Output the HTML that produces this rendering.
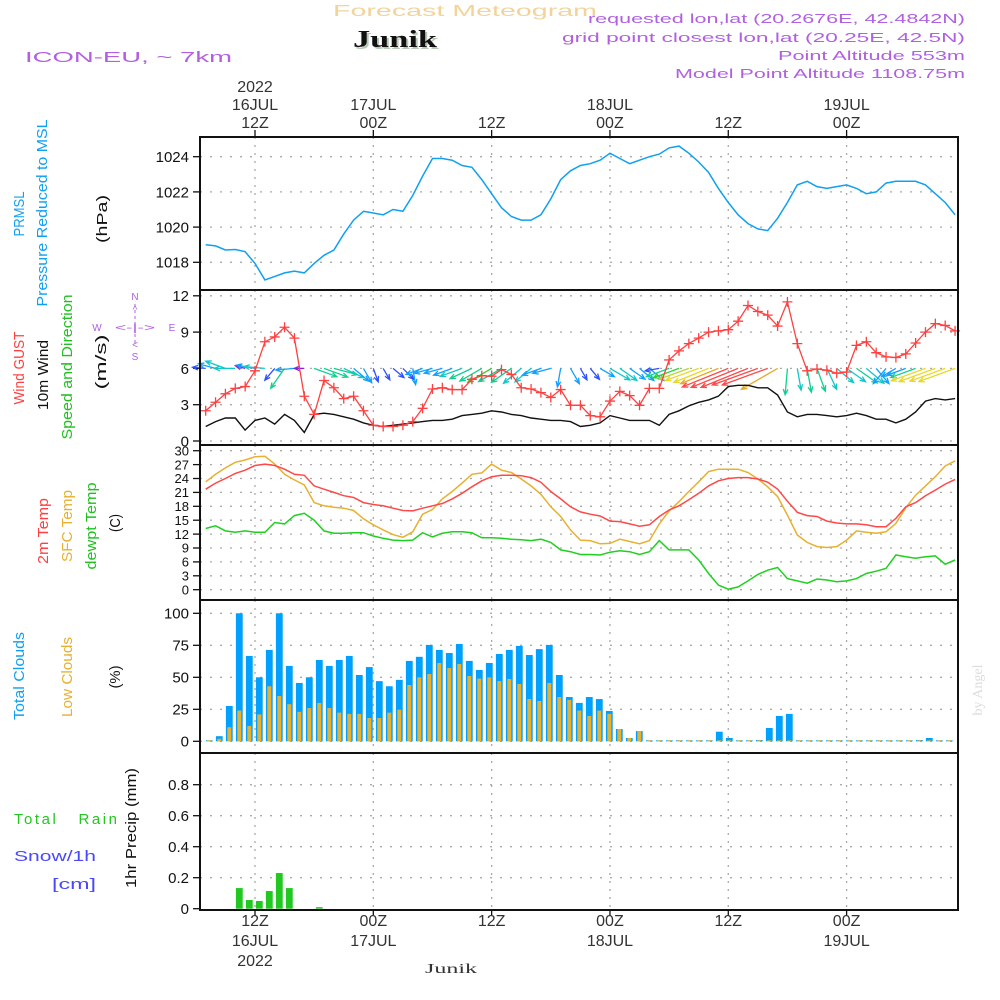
<!DOCTYPE html>
<html><head><meta charset="utf-8"><style>
html,body{margin:0;padding:0;background:#fff;}
svg{display:block;font-family:"Liberation Sans",sans-serif;}
</style></head><body>
<svg id="chart" width="1000" height="1000" viewBox="0 0 1000 1000" xmlns="http://www.w3.org/2000/svg">
<rect width="1000" height="1000" fill="#fff"/>
<text x="333" y="16" font-size="16" fill="#f2d49a" textLength="264" lengthAdjust="spacingAndGlyphs">Forecast Meteogram</text>
<text x="355" y="49" font-size="24" font-weight="bold" font-family="Liberation Serif,serif" fill="#b8c8b8" textLength="84" lengthAdjust="spacingAndGlyphs">Junik</text>
<text x="353" y="47" font-size="24" font-weight="bold" font-family="Liberation Serif,serif" fill="#111" textLength="84" lengthAdjust="spacingAndGlyphs">Junik</text>
<text x="25" y="62" font-size="15" fill="#b060e0" textLength="207" lengthAdjust="spacingAndGlyphs">ICON-EU, ~ 7km</text>
<g font-size="13" fill="#b060e0" text-anchor="end">
<text x="965" y="23" textLength="377" lengthAdjust="spacingAndGlyphs">requested lon,lat (20.2676E, 42.4842N)</text>
<text x="965" y="42" textLength="403" lengthAdjust="spacingAndGlyphs">grid point closest lon,lat (20.25E, 42.5N)</text>
<text x="965" y="60" textLength="187" lengthAdjust="spacingAndGlyphs">Point Altitude 553m</text>
<text x="965" y="78" textLength="290" lengthAdjust="spacingAndGlyphs">Model Point Altitude 1108.75m</text>
</g>
<g font-size="15">
<text transform="translate(24,214) rotate(-90)" text-anchor="middle" fill="#10a0f0" textLength="45" lengthAdjust="spacingAndGlyphs">PRMSL</text>
<text transform="translate(47,213) rotate(-90)" text-anchor="middle" fill="#10a0f0" textLength="187" lengthAdjust="spacingAndGlyphs">Pressure Reduced to MSL</text>
<text transform="translate(107,219) rotate(-90)" text-anchor="middle" fill="#111" textLength="48" lengthAdjust="spacingAndGlyphs">(hPa)</text>
<text transform="translate(24,368) rotate(-90)" text-anchor="middle" fill="#ff4040" textLength="73" lengthAdjust="spacingAndGlyphs">Wind GUST</text>
<text transform="translate(48,375) rotate(-90)" text-anchor="middle" fill="#111" textLength="70" lengthAdjust="spacingAndGlyphs">10m Wind</text>
<text transform="translate(72,367) rotate(-90)" text-anchor="middle" fill="#20c020" textLength="145" lengthAdjust="spacingAndGlyphs">Speed and Direction</text>
<text transform="translate(106,362) rotate(-90)" text-anchor="middle" fill="#111" textLength="55" lengthAdjust="spacingAndGlyphs">(m/s)</text>
<text transform="translate(48,531) rotate(-90)" text-anchor="middle" fill="#ff4040" textLength="66" lengthAdjust="spacingAndGlyphs">2m Temp</text>
<text transform="translate(72,526) rotate(-90)" text-anchor="middle" fill="#e8b030" textLength="72" lengthAdjust="spacingAndGlyphs">SFC Temp</text>
<text transform="translate(96,526) rotate(-90)" text-anchor="middle" fill="#20c020" textLength="87" lengthAdjust="spacingAndGlyphs">dewpt Temp</text>
<text transform="translate(120,523) rotate(-90)" text-anchor="middle" fill="#111" textLength="18" lengthAdjust="spacingAndGlyphs">(C)</text>
<text transform="translate(24,676) rotate(-90)" text-anchor="middle" fill="#10a0f0" textLength="88" lengthAdjust="spacingAndGlyphs">Total Clouds</text>
<text transform="translate(72,677) rotate(-90)" text-anchor="middle" fill="#e8b030" textLength="80" lengthAdjust="spacingAndGlyphs">Low Clouds</text>
<text transform="translate(120,677) rotate(-90)" text-anchor="middle" fill="#111" textLength="23" lengthAdjust="spacingAndGlyphs">(%)</text>
<text x="14" y="824" fill="#20c820" xml:space="preserve" textLength="103" lengthAdjust="spacing">Total   Rain</text>
<text x="14" y="861" fill="#4848ff" textLength="82" lengthAdjust="spacingAndGlyphs">Snow/1h</text>
<text x="52" y="889" fill="#4848ff" textLength="44" lengthAdjust="spacingAndGlyphs">[cm]</text>
<text transform="translate(136,828) rotate(-90)" text-anchor="middle" fill="#111" textLength="120" lengthAdjust="spacingAndGlyphs">1hr Precip (mm)</text>
</g>
<g font-size="10" fill="#b060e0" text-anchor="middle">
<text x="135" y="300">N</text><text x="97" y="331">W</text><text x="172" y="331">E</text><text x="135" y="360">S</text>
<text x="135" y="331" textLength="40" lengthAdjust="spacingAndGlyphs">&lt;-|-&gt;</text>
<text x="135" y="313">^</text><text x="135" y="348">&lt;</text>
<line x1="135" y1="304" x2="135" y2="346" stroke="#b060e0" stroke-width="1" stroke-dasharray="3,3"/>
</g>
<text transform="translate(982,690) rotate(-90)" text-anchor="middle" font-size="14" font-family="Liberation Serif,serif" fill="#dcdcdc">by Angel</text>
<text x="451" y="973" text-anchor="middle" font-size="14" font-family="Liberation Serif,serif" fill="#333" textLength="52" lengthAdjust="spacingAndGlyphs">Junik</text>
<g id="plot"></g>
</svg>
<script>
const pressure=[1019.0,1018.93,1018.7,1018.73,1018.6,1017.94,1017.0,1017.2,1017.4,1017.5,1017.4,1017.94,1018.4,1018.7,1019.6,1020.4,1020.9,1020.8,1020.7,1021.0,1020.9,1021.8,1022.9,1023.9,1023.9,1023.8,1023.5,1023.4,1022.7,1021.9,1021.1,1020.6,1020.4,1020.4,1020.7,1021.6,1022.7,1023.2,1023.5,1023.6,
1023.8,1024.2,1023.9,1023.6,1023.8,1024.0,1024.15,1024.5,1024.6,1024.2,1023.7,1023.1,1022.2,1021.4,1020.7,1020.2,1019.9,1019.8,1020.5,1021.4,1022.4,1022.6,1022.3,1022.2,1022.3,1022.4,1022.2,1021.9,1022.0,1022.5,1022.6,1022.6,1022.6,1022.4,1021.9,1021.4,1020.7];
const gust=[2.5,3.2,3.9,4.35,4.5,5.8,8.2,8.6,9.4,8.5,3.7,2.2,5.0,4.4,3.5,3.7,2.5,1.3,1.2,1.2,1.3,1.6,2.7,4.3,4.4,4.25,4.25,5.1,5.4,5.35,5.9,5.5,4.4,4.3,4.0,3.6,4.25,2.95,2.95,2.1,
2.0,3.3,4.1,3.75,2.95,4.35,4.35,6.7,7.45,8.05,8.5,9.0,9.1,9.2,9.9,11.2,10.7,10.4,9.5,11.5,8.05,5.8,5.95,5.85,5.6,5.7,7.9,8.2,7.3,6.95,6.9,7.2,8.1,9.0,9.7,9.55,9.1];
const wind10=[1.2,1.6,1.9,1.9,0.9,1.7,1.9,1.4,2.2,1.7,0.7,2.2,2.3,2.2,2.0,1.8,1.5,1.3,1.2,1.3,1.4,1.5,1.6,1.7,1.7,1.8,2.1,2.2,2.3,2.5,2.4,2.2,2.1,1.9,1.8,1.7,1.7,1.6,1.2,1.3,
1.5,2.1,1.9,1.7,1.7,1.7,1.3,2.2,2.5,2.9,3.2,3.4,3.7,4.5,4.6,4.6,4.4,4.4,3.8,2.4,2.0,2.2,2.2,2.1,2.0,2.1,2.3,2.1,1.8,1.8,1.5,1.8,2.4,3.3,3.5,3.4,3.5];
const windToDeg=[185,195,200,180,195,190,185,130,125,175,180,20,20,15,25,40,60,70,60,40,45,80,160,165,165,160,160,155,150,150,150,145,140,140,160,165,100,60,60,50,
30,30,35,35,40,40,170,160,160,160,160,158,158,158,158,158,160,160,150,95,80,80,70,65,40,35,35,40,50,130,150,160,160,160,160,160,160];
const temp2m=[21.7,23.0,24.0,25.1,25.8,26.8,27.1,26.8,26.0,24.9,24.7,22.4,21.7,21.0,20.3,19.9,18.8,18.4,18.1,17.6,17.1,17.0,17.6,18.1,18.6,19.6,20.8,22.2,23.5,24.4,24.7,24.7,24.6,24.2,23.2,21.2,19.6,17.9,16.8,16.3,
15.9,14.8,14.7,14.2,13.7,14.0,15.8,17.2,18.1,19.4,20.8,22.4,23.5,24.0,24.2,24.2,23.9,23.2,21.7,19.1,16.7,16.0,15.8,14.8,14.4,14.2,14.2,14.0,13.6,13.6,15.4,17.9,18.8,20.3,21.5,22.8,23.8];
const tempSfc=[23.3,24.9,26.3,27.5,28.0,28.7,28.8,27.1,24.9,23.7,22.6,18.8,18.1,17.8,17.6,17.1,15.3,14.0,12.9,11.9,11.3,12.5,16.3,17.3,19.6,21.2,23.0,24.9,25.2,27.1,25.8,25.3,23.9,22.4,20.6,17.9,15.8,12.9,10.7,10.6,
9.9,10.0,10.9,10.4,9.9,10.6,14.2,17.0,19.0,21.2,23.3,25.5,26.0,26.0,26.0,25.3,23.9,22.2,20.1,16.1,11.8,10.2,9.3,9.1,9.3,10.7,12.7,12.4,12.2,12.5,14.3,17.7,20.4,22.4,24.4,26.7,27.8];
const dewpt=[13.2,13.8,12.7,12.4,12.7,12.4,12.4,14.5,14.2,16.0,16.5,15.0,12.7,12.2,12.2,12.3,12.3,11.6,11.1,10.7,10.6,10.7,12.3,11.4,12.2,12.5,12.5,12.3,11.2,11.2,11.1,10.9,10.8,10.6,10.9,10.2,8.6,8.2,7.6,7.6,
7.5,8.1,8.4,8.2,7.6,8.2,10.6,8.6,8.6,8.6,6.4,3.5,1.0,0.1,0.6,1.9,3.3,4.2,4.8,2.4,1.9,1.4,2.3,2.1,1.7,1.9,2.4,3.5,4.0,4.6,7.5,7.1,6.8,7.1,7.3,5.5,6.4];
const totalClouds=[0.5,4,27.6,100,66.7,50,71.4,100,58.9,45.6,50,63.5,58.9,63.5,66.7,51.8,58,47,43,48,62.8,66,75.3,71.4,69,76,62.8,55.7,61.2,68.2,71.4,74.5,67.4,72,75.3,51.8,34.6,30,34.6,
33,23.7,9.6,2.6,8,0.3,0.3,0.3,0.3,0.3,0.3,0.3,7.5,2.6,0.3,0.3,1,10.4,19.8,21.4,0.3,0.3,0.3,0.3,0.3,0.3,0.3,0.3,0.3,0.3,0.3,0.3,1,2.6,0.3,0.3];
const lowClouds=[0,2,11,24,12,21,43,35.4,29,23,26,30,26,22.4,21.4,21.4,18.2,18.2,22.4,24.7,44,50,52.6,61.2,57.3,60.4,51,49,50,47,48.7,44.8,33,31.5,45.6,34.6,32.3,24,19.8,
24,21.4,9.6,2.6,8,0.3,0.3,0.3,0.3,0.3,0.3,0.3,0.3,0.3,0.3,0.3,0.3,0.3,0.3,0.3,0.3,0.3,0.3,0.3,0.3,0.3,0.3,0.3,0.3,0.3,0.3,0.3,0.3,0.3,0.3,0.3];
const precip=[0,0,0,0.133,0.056,0.05,0.114,0.23,0.133,0,0,0.01,0,0,0,0,0,0,0,0,0,0,0,0,0,0,0,0,0,0,0,0,0,0,0,0,0,0,0,0,0,0,0,0,0,0,0,0,0,0,0,0,0,0,0,0,0,0,0,0,0,0,0,0,0,0,0,0,0,0,0,0,0,0,0];
const timeTicksH=[0,12,24,36,48,60];
const topTickLabels=[["2022","16JUL","12Z"],["17JUL","00Z"],["12Z"],["18JUL","00Z"],["12Z"],["19JUL","00Z"]];
const bottomTickLabels=[["12Z","16JUL","2022"],["00Z","17JUL"],["12Z"],["00Z","18JUL"],["12Z"],["00Z","19JUL"]];
const pTicks=[1018,1020,1022,1024];
const wTicks=[0,3,6,9,12];
const tTicks=[0,3,6,9,12,15,18,21,24,27,30];
const cTicks=[0,25,50,75,100];
const rTicks=[0,0.2,0.4,0.6,0.8];
const rTickLabels=["0","0.2","0.4","0.6","0.8"];

const NS="http://www.w3.org/2000/svg";
const plot=document.getElementById('plot');
function mk(tag,attrs,parent){const e=document.createElementNS(NS,tag);for(const k in attrs)e.setAttribute(k,attrs[k]);(parent||plot).appendChild(e);return e;}
const X0=200,X1=958;
const H0=-5;
function xs(h){return 255+h*9.86;}
function xb(i){return 209.3+i*10;}
function yP(v){return 262.3-(v-1018)*17.6;}
function yW(v){return 441-v*12.1;}
function yT(v){return 589.7-v*4.633;}
function yC(v){return 741.3-v*1.28;}
function yR(v){return 908.7-v*155;}
const panels=[{n:'pressure',t:137,b:290,ticks:pTicks,f:yP,lab:pTicks.map(String),fs:15},
{n:'wind',t:290,b:445,ticks:wTicks,f:yW,lab:wTicks.map(String),fs:15},
{n:'temp',t:445,b:600,ticks:tTicks,f:yT,lab:tTicks.map(String),fs:13},
{n:'clouds',t:600,b:753,ticks:cTicks,f:yC,lab:cTicks.map(String),fs:15},
{n:'precip',t:753,b:910,ticks:rTicks,f:yR,lab:rTickLabels,fs:15}];
panels.forEach(p=>{
  const g=mk('g',{});
  
  
  timeTicksH.forEach(h=>{mk('line',{x1:xs(h),x2:xs(h),y1:p.t,y2:p.b,stroke:'#aaa','stroke-width':1.3,'stroke-dasharray':'2,6'},g);});
  p.ticks.forEach((v,i)=>{
    const y=p.f(v);
    if(y>p.t+3&&y<p.b-3) mk('line',{x1:X0,x2:X1,y1:y,y2:y,stroke:'#aaa','stroke-width':1.3,'stroke-dasharray':'2,8'},g);
    mk('line',{x1:193,x2:X0,y1:y,y2:y,stroke:'#111','stroke-width':1.3},g);
    const t=mk('text',{x:189,y:y+p.fs*0.36,'text-anchor':'end','font-size':p.fs,fill:'#111'},g);
    
    
    t.textContent=p.lab[i];
  });
});
function linePath(arr,f){return arr.map((v,i)=>(i?'L':'M')+xs(H0+i).toFixed(1)+','+f(v).toFixed(1)).join('');}
let e=mk('path',{d:linePath(pressure,yP),fill:'none',stroke:'#10a0f0','stroke-width':1.5});


function wcol(s){if(s<1)return '#8a20e0';if(s<1.5)return '#3050ff';if(s<1.9)return '#10a0ff';if(s<2.2)return '#10c8c8';if(s<2.5)return '#10d090';if(s<2.8)return '#30d030';if(s<3.2)return '#b0d830';if(s<3.6)return '#e8d828';if(s<4.0)return '#e8a828';return '#ff4848';}
const ag=mk('g',{});


windToDeg.forEach((d,i)=>{
  const s=wind10[i],L=Math.max(10,s*11),a=d*Math.PI/180;
  const x1=xs(H0+i),y1=yW(6),x2=x1+L*Math.cos(a),y2=y1+L*Math.sin(a);
  const c=wcol(s);
  const hl=6,b1=a+Math.PI-0.4,b2=a+Math.PI+0.4;
  const p=mk('path',{d:`M${x1},${y1}L${x2},${y2}M${x2+hl*Math.cos(b1)},${y2+hl*Math.sin(b1)}L${x2},${y2}L${x2+hl*Math.cos(b2)},${y2+hl*Math.sin(b2)}`,fill:'none',stroke:c,'stroke-width':1.3},ag);
  
  
});
e=mk('path',{d:linePath(wind10,yW),fill:'none',stroke:'#111','stroke-width':1.4});


e=mk('path',{d:linePath(gust,yW),fill:'none',stroke:'#ff4040','stroke-width':1.3});


gust.forEach((v,i)=>{const x=xs(H0+i),y=yW(v);
  const m=mk('path',{d:`M${x-5},${y}L${x+5},${y}M${x},${y-5}L${x},${y+5}`,stroke:'#ff4040','stroke-width':1.3});
  
  });
[[tempSfc,'#e8b030','sfc-temp-line'],[temp2m,'#ff4848','temp-2m-line'],[dewpt,'#20d020','dewpoint-line']].forEach(s=>{
  const p=mk('path',{d:linePath(s[0],yT),fill:'none',stroke:s[1],'stroke-width':1.5});
  
  
});
totalClouds.forEach((v,i)=>{const y=yC(v);
  const r=mk('rect',{x:xb(i)-3.4,y:Math.min(y,yC(0)-1),width:6.8,height:Math.max(1,yC(0)-y),fill:'#00a0ff'});
  
  });
lowClouds.forEach((v,i)=>{const y=yC(v);
  const r=mk('rect',{x:xb(i)-2,y:Math.min(y,yC(0)-1),width:4,height:Math.max(1,yC(0)-y),fill:'#e8b030'});
  
  });
precip.forEach((v,i)=>{if(v<=0)return;const y=yR(v);
  const r=mk('rect',{x:xb(i)-3.4,y:y,width:6.8,height:Math.max(1,yR(0)-y),fill:'#20c820'});
  
  });
panels.forEach(p=>{const r=mk('rect',{x:X0,y:p.t,width:X1-X0,height:p.b-p.t,fill:'none',stroke:'#111','stroke-width':2});
  
  });
timeTicksH.forEach((h,i)=>{
  const x=xs(h);
  mk('line',{x1:x,x2:x,y1:130,y2:137,stroke:'#111','stroke-width':1.3});
  mk('line',{x1:x,x2:x,y1:910,y2:916,stroke:'#111','stroke-width':1.3});
  const top=topTickLabels[i];
  top.forEach((s,j)=>{const t=mk('text',{x:x,y:128-(top.length-1-j)*18,'text-anchor':'middle','font-size':16,fill:'#333'});
    
    
    t.textContent=s;});
  bottomTickLabels[i].forEach((s,j)=>{const t=mk('text',{x:x,y:926+j*20,'text-anchor':'middle','font-size':16,fill:'#333'});
    
    
    t.textContent=s;});
});
</script>
</body></html>
